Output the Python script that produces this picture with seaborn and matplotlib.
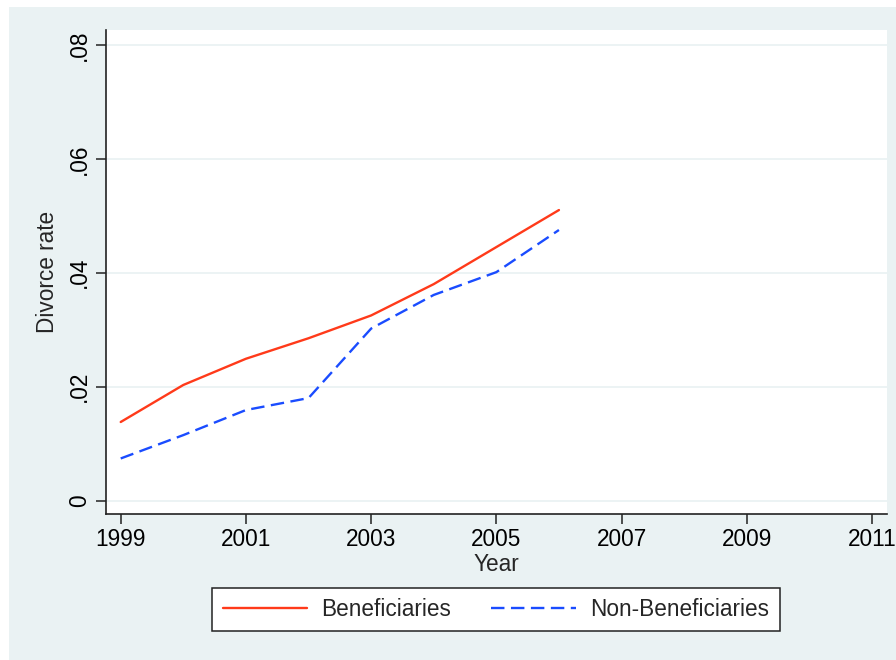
import matplotlib
matplotlib.use("Agg")
import matplotlib.pyplot as plt
from matplotlib.patches import Rectangle
import pandas as pd
import seaborn as sns

years = [1999, 2000, 2001, 2002, 2003, 2004, 2005, 2006]
beneficiaries = [0.0138, 0.0203, 0.0249, 0.0285, 0.0325, 0.0380, 0.0445, 0.0510]
non_beneficiaries = [0.0074, 0.0115, 0.0159, 0.0180, 0.0302, 0.0361, 0.0401, 0.0475]
series_names = ["Beneficiaries", "Non-Beneficiaries"]
x_ticks = [1999, 2001, 2003, 2005, 2007, 2009, 2011]
y_ticks = [0, 0.02, 0.04, 0.06, 0.08]
y_tick_labels = ["0", ".02", ".04", ".06", ".08"]

df = pd.DataFrame({
    "Year": years * 2,
    "rate": beneficiaries + non_beneficiaries,
    "group": [series_names[0]] * len(years) + [series_names[1]] * len(years),
})

sns.set_theme(style="white")
plt.rcParams["font.family"] = ["Liberation Sans", "DejaVu Sans"]

BG = "#EAF2F3"
W, H = 896, 660
FS = 16.3
fig = plt.figure(figsize=(W / 100, H / 100), dpi=100, facecolor="white")
fig.patches.append(Rectangle((9 / W, 0), 1 - 9 / W, 1 - 7 / H,
                             transform=fig.transFigure, facecolor=BG,
                             edgecolor="none", zorder=-10))

ax = fig.add_axes([106 / W, (H - 514.3) / H, (887.3 - 106) / W, (514.3 - 30) / H])
ax.set_facecolor("white")

palette = {series_names[0]: "#FF3A1A", series_names[1]: "#1A4CFF"}
dashes = {series_names[0]: "", series_names[1]: (5.7, 2.75)}
sns.lineplot(data=df, x="Year", y="rate", hue="group", style="group",
             palette=palette, dashes=dashes, linewidth=1.7, ax=ax,
             legend=True)

ax.set_xlim(1998.765, 2011.245)
ax.set_ylim(-0.0024, 0.0826)
ax.set_xticks(x_ticks)
ax.set_yticks(y_ticks)
ax.set_yticklabels(y_tick_labels, rotation=90, va="center")
ax.grid(axis="y", color=BG, linewidth=1.3)
ax.grid(axis="x", visible=False)

for side in ["top", "right"]:
    ax.spines[side].set_visible(False)
for side in ["left", "bottom"]:
    ax.spines[side].set_color("#222222")
    ax.spines[side].set_linewidth(1.2)

ax.tick_params(axis="both", direction="out", length=7, width=1.1,
               color="#222222", labelsize=FS, labelcolor="black",
               left=True, bottom=True)
ax.tick_params(axis="y", pad=4)
ax.tick_params(axis="x", pad=3)

ax.set_xlabel("Year", fontsize=FS, labelpad=1)
ax.set_ylabel("Divorce rate", fontsize=FS, labelpad=6)

handles, labels = ax.get_legend_handles_labels()
leg = fig.legend(handles, labels, loc="center",
                 bbox_to_anchor=(496 / W, 1 - 609.5 / H), ncol=2,
                 frameon=True, fancybox=False, fontsize=FS,
                 handlelength=3.75, columnspacing=1.77, handletextpad=0.62,
                 borderpad=0.45, borderaxespad=0)
ax.get_legend().remove()
frame = leg.get_frame()
frame.set_edgecolor("#222222")
frame.set_linewidth(1.1)
frame.set_facecolor("white")
frame.set_alpha(1)

fig.savefig("out.png", dpi=100, facecolor=fig.get_facecolor())
